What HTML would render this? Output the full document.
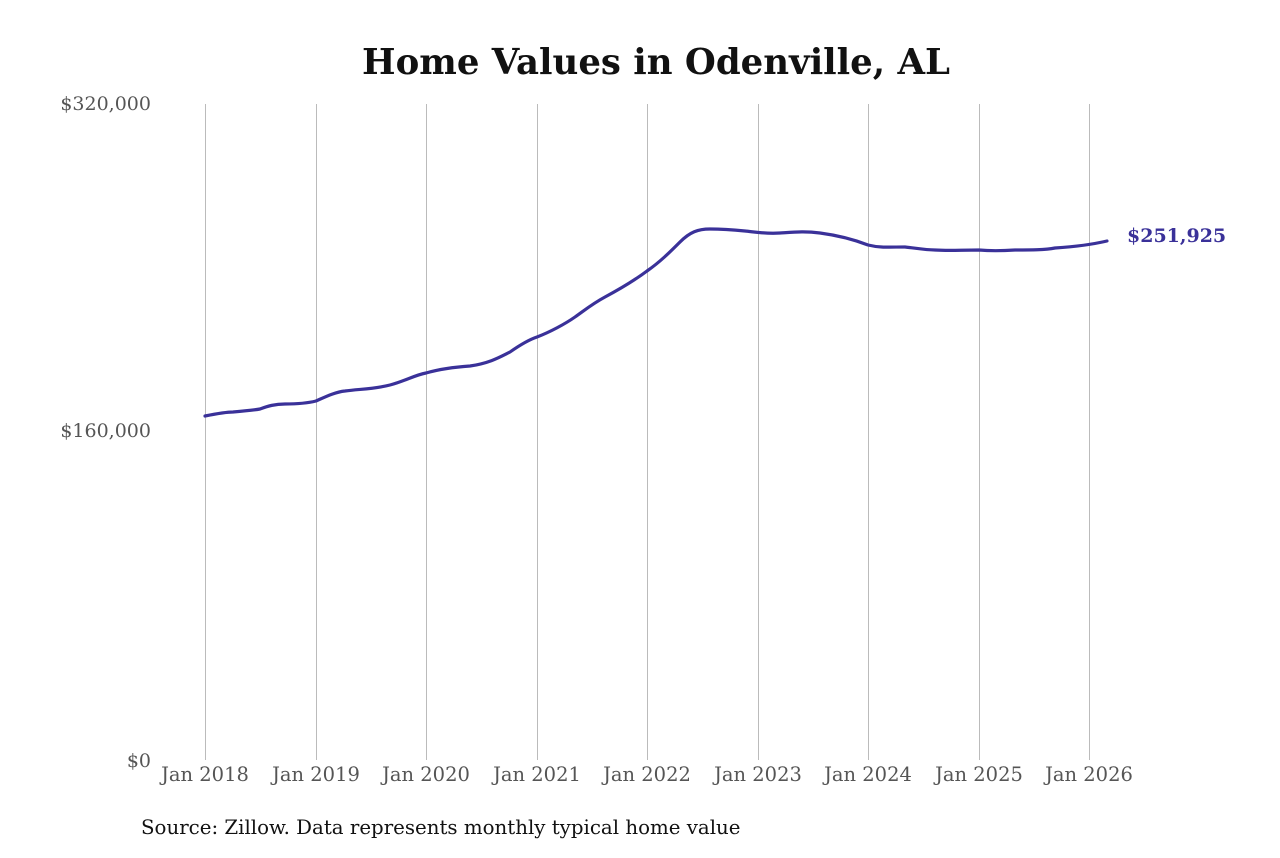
<!DOCTYPE html>
<html><head><meta charset="utf-8"><style>
body{margin:0;background:#fff;}
svg text{font-family:"DejaVu Serif","Liberation Serif",serif;}
</style></head><body>
<svg width="1280" height="853" viewBox="0 0 1280 853" xmlns="http://www.w3.org/2000/svg">
<rect width="1280" height="853" fill="#fff"/>
<text x="656" y="74" text-anchor="middle" font-size="35.5" font-weight="bold" fill="#111">Home Values in Odenville, AL</text>
<g stroke="#bbb" stroke-width="1">
<line x1="205.5" y1="104" x2="205.5" y2="760"/>
<line x1="316.5" y1="104" x2="316.5" y2="760"/>
<line x1="426.5" y1="104" x2="426.5" y2="760"/>
<line x1="537.5" y1="104" x2="537.5" y2="760"/>
<line x1="647.5" y1="104" x2="647.5" y2="760"/>
<line x1="758.5" y1="104" x2="758.5" y2="760"/>
<line x1="868.5" y1="104" x2="868.5" y2="760"/>
<line x1="979.5" y1="104" x2="979.5" y2="760"/>
<line x1="1089.5" y1="104" x2="1089.5" y2="760"/>
</g>
<g font-size="19" fill="#555" text-anchor="end" textLength="91">
<text x="151" y="110">$320,000</text>
<text x="151" y="437">$160,000</text>
<text x="151" y="767">$0</text>
</g>
<g font-size="19.5" fill="#555" text-anchor="middle">
<text x="205" y="781">Jan 2018</text>
<text x="316" y="781">Jan 2019</text>
<text x="426" y="781">Jan 2020</text>
<text x="537" y="781">Jan 2021</text>
<text x="647" y="781">Jan 2022</text>
<text x="758" y="781">Jan 2023</text>
<text x="868" y="781">Jan 2024</text>
<text x="979" y="781">Jan 2025</text>
<text x="1089" y="781">Jan 2026</text>
</g>
<path fill="none" stroke="#3a3199" stroke-width="3.2" stroke-linejoin="round" stroke-linecap="round"
d="M205,416 C215,414 225,412 233,412 C245,411 255,410 260,409 C268,406 275,404 285,404 C300,404 308,403 316,401 C325,397 335,392 345,391 C360,389 375,389 390,385 C405,381 415,375 426,373 C440,369 455,367 470,366 C490,363 500,357 510,352 C520,345 528,340 537,337 C550,332 565,324 575,317 C585,310 592,304 605,297 C620,289 635,280 647,271 C660,262 670,252 680,242 C690,232 698,229 710,229 C725,229 735,230 745,231 C755,232 765,234 780,233 C795,232 805,231 820,233 C835,235 850,238 868,245 C880,248 890,247 905,247 C915,248 925,250 935,250 C950,251 960,250 979,250 C990,251 1000,251 1015,250 C1030,250 1045,250 1055,248 C1070,247 1090,245 1107,241"/>
<text x="1127" y="242" font-size="19" font-weight="bold" fill="#3a3199">$251,925</text>
<text x="141" y="834" font-size="19.8" fill="#111">Source: Zillow. Data represents monthly typical home value</text>
</svg>
</body></html>
